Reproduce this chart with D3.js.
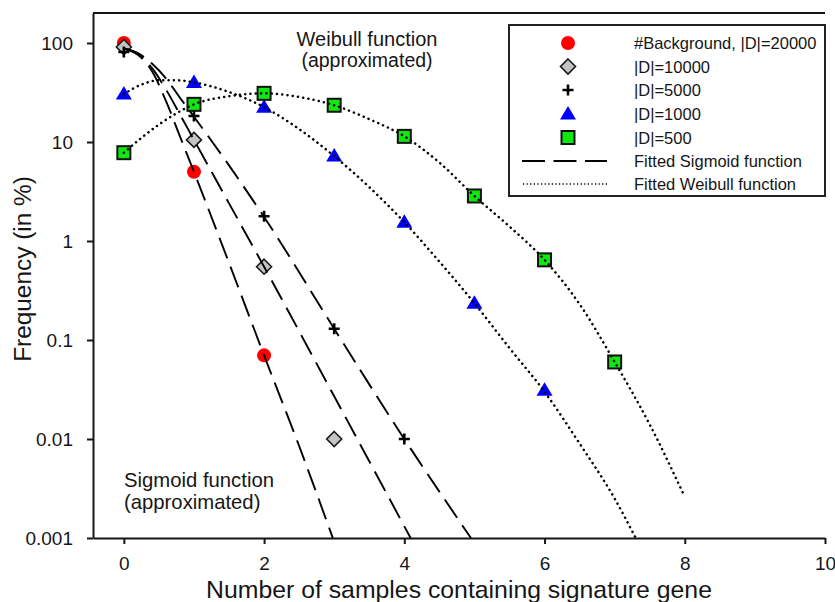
<!DOCTYPE html>
<html>
<head>
<meta charset="utf-8">
<script src="https://cdn.jsdelivr.net/npm/d3@7"></script>
<style>
  body { margin: 0; background: #fff; }
  text { font-family: Arial, "Liberation Sans", sans-serif; fill: #161616; }
</style>
</head>
<body>
<div id="chart"></div>
<script>
// valeurs (x = nombre d'echantillons)
var xTicks = [0, 2, 4, 6, 8, 10];
var yTicks = [0.001, 0.01, 0.1, 1, 10, 100];

var bgValues = [100, 5, 0.07];                       // #Background, |D|=20000
var d10000Values = [91, 10.5, 0.55, 0.01];
var d5000Values = [81, 18.3, 1.78, 0.13, 0.01];
var d1000Values = [30.5, 40, 22.5, 7.2, 1.55, 0.235, 0.031];
var d500Values = [7.8, 24, 31, 23.5, 11.4, 2.85, 0.645, 0.06];

var legendLabels = ["#Background, |D|=20000", "|D|=10000", "|D|=5000", "|D|=1000", "|D|=500",
                    "Fitted Sigmoid function", "Fitted Weibull function"];

// courbes ajustees
var sigmoidBg = [[0, 88], [0.2, 76], [0.4, 52], [0.6, 26], [0.8, 11.4], [1, 5], [1.5, 0.6], [2, 0.07], [2.5, 0.0085], [2.98, 0.001]];
var sigmoid10000 = [[0, 88], [0.2, 77], [0.4, 56], [0.6, 34], [0.8, 19], [1, 10.5], [1.5, 2.4], [2, 0.55], [3, 0.027], [4.09, 0.001]];
var sigmoid5000 = [[0, 88], [0.2, 79], [0.4, 62], [0.6, 44], [0.8, 28], [1, 18], [1.5, 5.8], [2, 1.75], [3, 0.13], [4, 0.01], [4.95, 0.001]];
var weibull1000 = [[0, 30.5], [0.25, 38], [0.5, 42], [0.75, 42], [1, 40], [1.5, 32], [2, 22.5], [2.5, 13.5], [3, 7.2], [3.5, 3.5],
                   [4, 1.55], [4.5, 0.62], [5, 0.235], [5.5, 0.083], [6, 0.03], [6.5, 0.009], [7, 0.0025], [7.3, 0.001]];
var weibull500 = [[0, 7.8], [0.25, 11], [0.5, 15], [0.75, 19.5], [1, 24], [1.5, 29], [2, 31], [2.5, 28.5], [3, 23.5], [3.5, 17],
                  [4, 11.4], [4.5, 6.2], [5, 2.85], [5.5, 1.4], [6, 0.645], [6.5, 0.23], [7, 0.06], [7.5, 0.014], [8, 0.0026]];

var width = 835, height = 602;
var plotLeft = 93, plotRight = 825, plotTop = 13, plotBottom = 538;

var svg = d3.select("#chart").append("svg")
    .attr("width", width)
    .attr("height", height);

var x = d3.scaleLinear().domain([-0.44, 10]).range([plotLeft, plotRight]);
var y = d3.scaleLog().domain([0.001, Math.pow(10, 2.303)]).range([plotBottom, plotTop]);

var ink = "#161616";

// axes
var fmt = function(d) { return d >= 1 ? d3.format("d")(d) : String(d); };

var gx = svg.append("g")
    .attr("transform", "translate(0," + plotBottom + ")")
    .call(d3.axisBottom(x).tickValues(xTicks).tickSize(6).tickSizeOuter(0).tickPadding(13));
var gy = svg.append("g")
    .attr("transform", "translate(" + plotLeft + ",0)")
    .call(d3.axisLeft(y).tickValues(yTicks).tickFormat(fmt).tickSize(6).tickSizeOuter(0).tickPadding(14));

[gx, gy].forEach(function(g) {
    g.selectAll("path, line").attr("stroke", ink).attr("stroke-width", 2);
    g.selectAll("text").attr("font-size", 19).attr("fill", ink)
        .attr("font-family", "Arial, 'Liberation Sans', sans-serif");
});

// ligne du haut
svg.append("line")
    .attr("x1", plotLeft).attr("x2", plotRight)
    .attr("y1", plotTop).attr("y2", plotTop)
    .attr("stroke", ink).attr("stroke-width", 2);

// titres des axes
svg.append("text")
    .attr("x", (plotLeft + plotRight) / 2)
    .attr("y", 598)
    .attr("text-anchor", "middle")
    .attr("font-size", 24.8)
    .text("Number of samples containing signature gene");

svg.append("text")
    .attr("transform", "translate(31," + 269 + ") rotate(-90)")
    .attr("text-anchor", "middle")
    .attr("font-size", 24.4)
    .text("Frequency (in %)");

// annotations
svg.append("text").attr("x", 367).attr("y", 46).attr("text-anchor", "middle").attr("font-size", 20).text("Weibull function");
svg.append("text").attr("x", 367).attr("y", 67).attr("text-anchor", "middle").attr("font-size", 19.5).text("(approximated)");
svg.append("text").attr("x", 124).attr("y", 487).attr("font-size", 20.3).text("Sigmoid function");
svg.append("text").attr("x", 124).attr("y", 509).attr("font-size", 20.3).text("(approximated)");

// symboles
function drawMarker(g, type, cx, cy) {
    if (type === "circle") {
        g.append("circle").attr("cx", cx).attr("cy", cy).attr("r", 7).attr("fill", "#ff0000");
    } else if (type === "diamond") {
        var s = 7.5;
        g.append("path")
            .attr("d", "M" + cx + "," + (cy - s) + "L" + (cx + s) + "," + cy + "L" + cx + "," + (cy + s) + "L" + (cx - s) + "," + cy + "Z")
            .attr("fill", "#c4c4c4").attr("stroke", "#1a1a1a").attr("stroke-width", 1.6);
    } else if (type === "cross") {
        var a = 5.5;
        g.append("path")
            .attr("d", "M" + (cx - a) + "," + cy + "H" + (cx + a) + "M" + cx + "," + (cy - a) + "V" + (cy + a))
            .attr("stroke", "#000").attr("stroke-width", 2.6).attr("fill", "none");
    } else if (type === "triangle") {
        g.append("path")
            .attr("d", "M" + cx + "," + (cy - 8) + "L" + (cx + 8) + "," + (cy + 5.5) + "L" + (cx - 8) + "," + (cy + 5.5) + "Z")
            .attr("fill", "#0000ff");
    } else if (type === "square") {
        g.append("rect").attr("x", cx - 6.5).attr("y", cy - 6.5).attr("width", 13).attr("height", 13)
            .attr("fill", "#0ee80e").attr("stroke", "#111").attr("stroke-width", 2);
    }
}

var series = [
    { values: bgValues, type: "circle" },
    { values: d10000Values, type: "diamond" },
    { values: d5000Values, type: "cross" },
    { values: d1000Values, type: "triangle" },
    { values: d500Values, type: "square" }
];

var marks = svg.append("g");
series.forEach(function(s) {
    s.values.forEach(function(v, i) {
        drawMarker(marks, s.type, x(i), y(v));
    });
});

// courbes ajustees (dessinees par-dessus les points)
var line = d3.line()
    .x(function(d) { return x(d[0]); })
    .y(function(d) { return y(d[1]); })
    .curve(d3.curveMonotoneX);

[sigmoidBg, sigmoid10000, sigmoid5000].forEach(function(c) {
    svg.append("path").datum(c).attr("d", line)
        .attr("fill", "none").attr("stroke", "#000").attr("stroke-width", 1.9)
        .attr("stroke-dasharray", "22,9");
});
[weibull1000, weibull500].forEach(function(c) {
    svg.append("path").datum(c).attr("d", line)
        .attr("fill", "none").attr("stroke", "#000").attr("stroke-width", 2.5)
        .attr("stroke-linecap", "round")
        .attr("stroke-dasharray", "0.1,5.2");
});

// legende
var leg = svg.append("g");
leg.append("rect")
    .attr("x", 509).attr("y", 25).attr("width", 316).attr("height", 171)
    .attr("fill", "#fff").attr("stroke", "#222").attr("stroke-width", 2);

var rowY = [43, 66.5, 90, 114, 137.5, 161, 184];
var types = ["circle", "diamond", "cross", "triangle", "square"];
legendLabels.forEach(function(lbl, i) {
    if (i < 5) {
        drawMarker(leg, types[i], 568, rowY[i]);
    } else if (i === 5) {
        leg.append("line").attr("x1", 522).attr("x2", 607).attr("y1", rowY[i]).attr("y2", rowY[i])
            .attr("stroke", "#000").attr("stroke-width", 1.9).attr("stroke-dasharray", "23,8.5");
    } else {
        leg.append("line").attr("x1", 523).attr("x2", 607).attr("y1", rowY[i]).attr("y2", rowY[i])
            .attr("stroke", "#000").attr("stroke-width", 1.4).attr("stroke-dasharray", "1.2,2.4");
    }
    leg.append("text")
        .attr("x", 634).attr("y", rowY[i] + 6)
        .attr("font-size", 16.5)
        .text(lbl);
});
</script>
</body>
</html>
